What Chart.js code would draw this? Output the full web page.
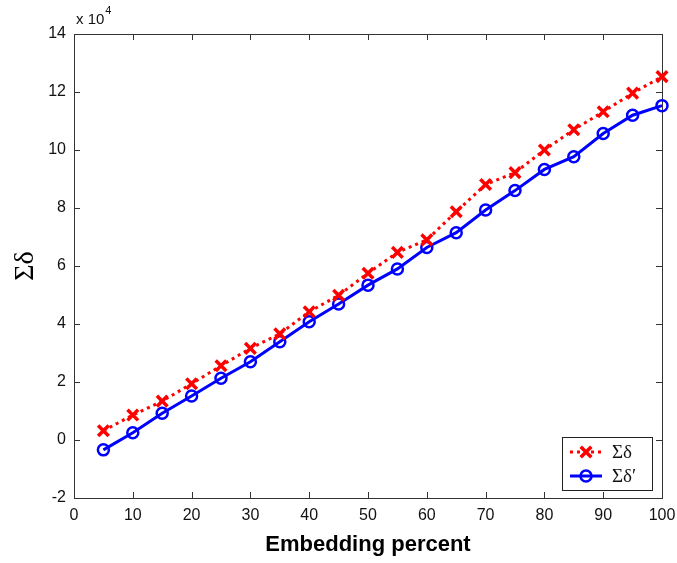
<!DOCTYPE html>
<html>
<head>
<meta charset="utf-8">
<script src="https://cdn.jsdelivr.net/npm/chart.js@4.4.0/dist/chart.umd.min.js"></script>
<style>
    html, body { margin: 0; padding: 0; background: #fff; }
    #wrap { width: 677px; height: 563px; }
</style>
</head>
<body>
<div id="wrap"><canvas id="chart" width="677" height="563"></canvas></div>
<script>
// Embedding percent
const percents = [5, 10, 15, 20, 25, 30, 35, 40, 45, 50, 55, 60, 65, 70, 75, 80, 85, 90, 95, 100];

// Σδ (x 10^4)
const sumDelta = [0.32, 0.86, 1.34, 1.94, 2.56, 3.16, 3.66, 4.42, 4.99, 5.75, 6.47, 6.90, 7.87, 8.81, 9.22, 10.0, 10.70, 11.32, 11.96, 12.53];

// Σδ' (x 10^4)
const sumDeltaPrime = [-0.34, 0.25, 0.92, 1.52, 2.13, 2.70, 3.39, 4.08, 4.69, 5.34, 5.90, 6.64, 7.15, 7.93, 8.60, 9.33, 9.77, 10.57, 11.20, 11.53];

// 눈금
const xTicks = [0, 10, 20, 30, 40, 50, 60, 70, 80, 90, 100];
const yTicks = [-2, 0, 2, 4, 6, 8, 10, 12, 14];

const legendLabels = ['Σδ', 'Σδ′'];

const tickFont = { family: '"Liberation Sans", Arial, sans-serif', size: 16 };

// 프레임 + 안쪽 눈금 (MATLAB 스타일)
const framePlugin = {
    id: 'frame',
    beforeDatasetsDraw(chart) {
        const { ctx, chartArea: a, scales } = chart;
        ctx.save();
        ctx.strokeStyle = '#333';
        ctx.lineWidth = 1;
        ctx.strokeRect(Math.round(a.left) + 0.5, Math.round(a.top) + 0.5,
            Math.round(a.right - a.left), Math.round(a.bottom - a.top));
        const len = 6;
        ctx.beginPath();
        xTicks.forEach(v => {
            const x = Math.round(scales.x.getPixelForValue(v)) + 0.5;
            ctx.moveTo(x, a.bottom); ctx.lineTo(x, a.bottom - len);
            ctx.moveTo(x, a.top); ctx.lineTo(x, a.top + len);
        });
        yTicks.forEach(v => {
            const y = Math.round(scales.y.getPixelForValue(v)) + 0.5;
            ctx.moveTo(a.left, y); ctx.lineTo(a.left + len, y);
            ctx.moveTo(a.right, y); ctx.lineTo(a.right - len, y);
        });
        ctx.stroke();

        // 지수 표시
        ctx.fillStyle = '#111';
        ctx.textBaseline = 'alphabetic';
        ctx.font = '15px "Liberation Sans", Arial, sans-serif';
        ctx.fillText('x 10', a.left + 2, a.top - 10);
        const w = ctx.measureText('x 10').width;
        ctx.font = '11px "Liberation Sans", Arial, sans-serif';
        ctx.fillText('4', a.left + 3 + w, a.top - 20);
        ctx.restore();
    }
};

// 범례 (플롯 안쪽 오른쪽 아래)
const legendPlugin = {
    id: 'boxLegend',
    afterDatasetsDraw(chart) {
        const { ctx, chartArea: a } = chart;
        const bw = 90, bh = 53;
        const bx = a.right - 10 - bw, by = a.bottom - 8 - bh;
        ctx.save();
        ctx.fillStyle = '#fff';
        ctx.fillRect(bx, by, bw, bh);
        ctx.strokeStyle = '#222';
        ctx.lineWidth = 1;
        ctx.strokeRect(bx + 0.5, by + 0.5, bw, bh);
        chart.data.datasets.forEach((ds, i) => {
            const cy = by + 15 + i * 24;
            const x0 = bx + 8, x1 = bx + 40, mx = (x0 + x1) / 2;
            ctx.strokeStyle = ds.borderColor;
            ctx.lineWidth = ds.borderWidth;
            ctx.setLineDash(ds.borderDash || []);
            ctx.beginPath(); ctx.moveTo(x0, cy); ctx.lineTo(x1, cy); ctx.stroke();
            ctx.setLineDash([]);
            ctx.lineWidth = ds.pointBorderWidth;
            ctx.beginPath();
            if (ds.pointStyle === 'crossRot') {
                const r = ds.pointRadius * 0.707;
                ctx.moveTo(mx - r, cy - r); ctx.lineTo(mx + r, cy + r);
                ctx.moveTo(mx + r, cy - r); ctx.lineTo(mx - r, cy + r);
            } else {
                ctx.arc(mx, cy, ds.pointRadius, 0, Math.PI * 2);
            }
            ctx.stroke();
            ctx.fillStyle = '#111';
            ctx.font = '19px "Liberation Serif", "Times New Roman", serif';
            ctx.textBaseline = 'middle';
            ctx.fillText(legendLabels[i], bx + 50, cy + 1);
        });
        ctx.restore();
    }
};

new Chart(document.getElementById('chart'), {
    type: 'line',
    data: {
        datasets: [
            {
                label: legendLabels[0],
                data: percents.map((p, i) => ({ x: p, y: sumDelta[i] })),
                borderColor: '#ff0000',
                borderWidth: 3,
                borderDash: [3, 4],
                pointStyle: 'crossRot',
                pointRadius: 7.5,
                pointBorderWidth: 3.5,
                pointBorderColor: '#ff0000',
                pointBackgroundColor: 'transparent',
                tension: 0,
                clip: false
            },
            {
                label: legendLabels[1],
                data: percents.map((p, i) => ({ x: p, y: sumDeltaPrime[i] })),
                borderColor: '#0000ff',
                borderWidth: 3,
                pointStyle: 'circle',
                pointRadius: 5.5,
                pointBorderWidth: 2.5,
                pointBorderColor: '#0000ff',
                pointBackgroundColor: 'transparent',
                tension: 0,
                clip: false
            }
        ]
    },
    options: {
        responsive: false,
        animation: false,
        layout: { padding: { left: 0, top: 34, right: 15, bottom: 0 } },
        plugins: {
            legend: { display: false },
            tooltip: { enabled: false }
        },
        scales: {
            x: {
                type: 'linear',
                min: 0,
                max: 100,
                afterBuildTicks: s => { s.ticks = xTicks.map(v => ({ value: v })); },
                afterFit: s => { s.height = 65; s.paddingLeft = 0; s.paddingRight = 0; },
                grid: { display: false, drawTicks: false },
                border: { display: false },
                ticks: { font: tickFont, color: '#111', padding: 8, maxRotation: 0 },
                title: {
                    display: true,
                    text: 'Embedding percent',
                    color: '#000',
                    font: { family: '"Liberation Sans", Arial, sans-serif', size: 22, weight: 'bold' },
                    padding: { top: 0, bottom: 5 }
                }
            },
            y: {
                type: 'linear',
                min: -2,
                max: 14,
                afterBuildTicks: s => { s.ticks = yTicks.map(v => ({ value: v })); },
                afterFit: s => { s.width = 74; s.paddingTop = 0; s.paddingBottom = 0; },
                grid: { display: false, drawTicks: false },
                border: { display: false },
                ticks: { font: tickFont, color: '#111', padding: 8 },
                title: {
                    display: true,
                    text: 'Σδ',
                    color: '#000',
                    font: { family: '"Liberation Serif", "Times New Roman", serif', size: 28 },
                    padding: { top: 9, bottom: 0 }
                }
            }
        }
    },
    plugins: [framePlugin, legendPlugin]
});
</script>
</body>
</html>
